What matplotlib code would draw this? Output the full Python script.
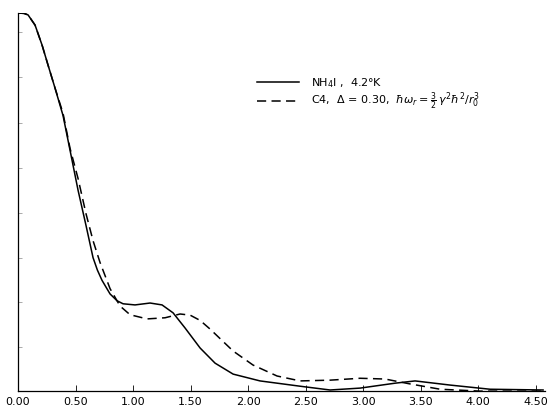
import matplotlib
matplotlib.use('Agg')
import matplotlib.pyplot as plt

# readings (y normalised to 1 at t = 0)
x_solid = [0.000, 0.052, 0.087, 0.148, 0.209, 0.261, 0.322, 0.391, 0.452, 0.522, 0.591, 0.652,
           0.690, 0.730, 0.800, 0.861, 0.913, 1.017, 1.148, 1.252, 1.348, 1.452, 1.583, 1.713,
           1.870, 2.104, 2.452, 2.713, 2.974, 3.278, 3.452, 3.757, 4.104, 4.565]
y_solid = [1.000, 0.999, 0.995, 0.968, 0.915, 0.862, 0.801, 0.729, 0.637, 0.531, 0.438, 0.353,
           0.320, 0.293, 0.257, 0.239, 0.231, 0.228, 0.233, 0.228, 0.207, 0.167, 0.114, 0.074,
           0.045, 0.027, 0.013, 0.003, 0.008, 0.021, 0.027, 0.016, 0.005, 0.003]

x_dash = [0.000, 0.052, 0.087, 0.148, 0.209, 0.261, 0.322, 0.391, 0.452, 0.522, 0.591, 0.652,
          0.713, 0.800, 0.887, 0.974, 1.122, 1.278, 1.409, 1.496, 1.583, 1.670, 1.870, 2.043,
          2.252, 2.452, 2.713, 2.974, 3.191, 3.409, 3.670, 4.017, 4.565]
y_dash = [1.000, 0.999, 0.995, 0.968, 0.915, 0.862, 0.801, 0.735, 0.642, 0.562, 0.469, 0.398,
          0.340, 0.271, 0.225, 0.202, 0.191, 0.194, 0.204, 0.201, 0.187, 0.164, 0.106, 0.069,
          0.040, 0.027, 0.029, 0.034, 0.032, 0.019, 0.005, 0.000, 0.000]

xticks = [0.0, 0.5, 1.0, 1.5, 2.0, 2.5, 3.0, 3.5, 4.0, 4.5]
yticks = [0.117, 0.235, 0.352, 0.471, 0.590, 0.709, 0.831, 0.950]

plt.rcParams['mathtext.fontset'] = 'dejavusans'

fig = plt.figure(figsize=(5.47, 4.07), dpi=100)
ax = fig.add_axes([0.033, 0.039, 0.963, 0.929])

ax.plot(x_solid, y_solid, color='black', lw=1.1, label=r'NH$_4$I ,  4.2°K')
ax.plot(x_dash, y_dash, color='black', lw=1.1, linestyle=(0, (6, 3.5)),
        label=r'C4,  $\Delta$ = 0.30,  $\hbar\omega_r = \frac{3}{2}\,\gamma^2\hbar^2/r_0^3$')

ax.set_xlim(0, 4.58)
ax.set_ylim(0, 1.0)
ax.set_xticks(xticks)
ax.set_xticklabels([f"{v:.2f}" for v in xticks], fontsize=8)
ax.set_yticks(yticks)
ax.set_yticklabels([])
ax.tick_params(axis='x', direction='in', length=4, width=0.6, pad=4)
ax.tick_params(axis='y', direction='in', length=3, width=0.5, color='#888888')
for s in ['top', 'right']:
    ax.spines[s].set_visible(False)
for s in ['left', 'bottom']:
    ax.spines[s].set_linewidth(0.9)

ax.legend(loc='upper left', bbox_to_anchor=(0.435, 0.86), frameon=False,
          fontsize=8, handlelength=3.8, handletextpad=1.0, labelspacing=0.1)

plt.savefig('out.png', dpi=100)
